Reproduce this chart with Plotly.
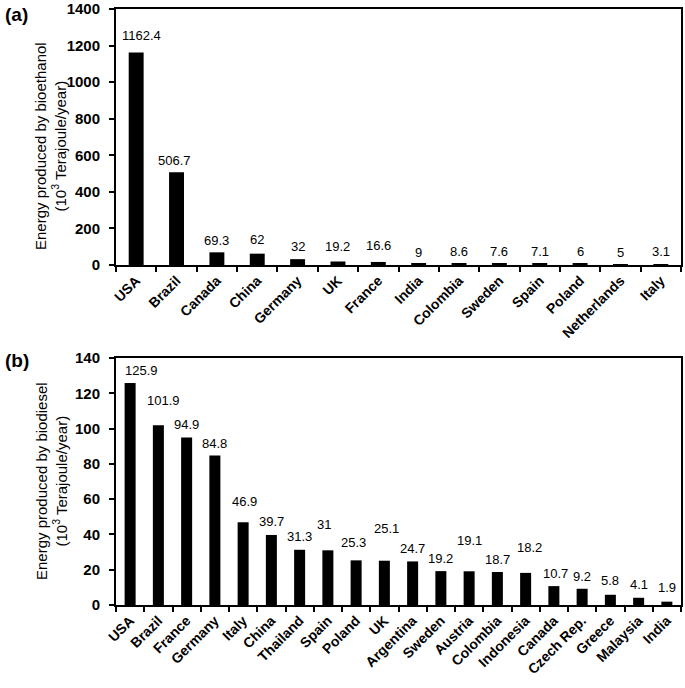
import plotly.graph_objects as go
from plotly.subplots import make_subplots

ethanol_countries = ["USA", "Brazil", "Canada", "China", "Germany", "UK", "France",
                     "India", "Colombia", "Sweden", "Spain", "Poland", "Netherlands", "Italy"]
ethanol_values = [1162.4, 506.7, 69.3, 62, 32, 19.2, 16.6, 9, 8.6, 7.6, 7.1, 6, 5, 3.1]
ethanol_labels = ["1162.4", "506.7", "69.3", "62", "32", "19.2", "16.6", "9", "8.6",
                  "7.6", "7.1", "6", "5", "3.1"]
ethanol_label_shift = [17, 12, 12, 14, 13, 15, 16, 11, 12, 12, 12, 12, 12, 13]
ethanol_label_xshift = [5, -2, 0, 0, 0, 0, 0, 0, 0, 0, 0, 0, 0, 0]

diesel_countries = ["USA", "Brazil", "France", "Germany", "Italy", "China", "Thailand",
                    "Spain", "Poland", "UK", "Argentina", "Sweden", "Austria", "Colombia",
                    "Indonesia", "Canada", "Czech Rep.", "Greece", "Malaysia", "India"]
diesel_values = [125.9, 101.9, 94.9, 84.8, 46.9, 39.7, 31.3, 31, 25.3, 25.1, 24.7, 19.2,
                 19.1, 18.7, 18.2, 10.7, 9.2, 5.8, 4.1, 1.9]
diesel_labels = ["125.9", "101.9", "94.9", "84.8", "46.9", "39.7", "31.3", "31", "25.3",
                 "25.1", "24.7", "19.2", "19.1", "18.7", "18.2", "10.7", "9.2", "5.8",
                 "4.1", "1.9"]
diesel_label_shift = [12, 25, 13, 12, 21, 13, 13, 26, 18, 32, 13, 13, 31, 13, 25, 13, 12,
                      14, 13, 14]
diesel_label_xshift = [11, 5, 0, 0, 1, 0, 0, -4, -3, 2, 0, 0, 0, 0, 4, 2, 0, 0, 0, 0]

W, H = 685, 688
FONT = "Liberation Sans, Arial"
fig = make_subplots(rows=2, cols=1)

fig.add_trace(go.Bar(x=ethanol_countries, y=ethanol_values, marker_color="black",
                     marker_line_width=0, width=0.37, showlegend=False), row=1, col=1)
fig.add_trace(go.Bar(x=diesel_countries, y=diesel_values, marker_color="black",
                     marker_line_width=0, width=0.39, showlegend=False), row=2, col=1)

for c, v, t, s, xs in zip(ethanol_countries, ethanol_values, ethanol_labels,
                          ethanol_label_shift, ethanol_label_xshift):
    fig.add_annotation(x=c, y=v, text=t, showarrow=False, xref="x", yref="y",
                       yanchor="middle", yshift=s, xshift=xs,
                       font=dict(family=FONT, size=13, color="black"))
for c, v, t, s, xs in zip(diesel_countries, diesel_values, diesel_labels,
                          diesel_label_shift, diesel_label_xshift):
    fig.add_annotation(x=c, y=v, text=t, showarrow=False, xref="x2", yref="y2",
                       yanchor="middle", yshift=s, xshift=xs,
                       font=dict(family=FONT, size=13, color="black"))

xdom = [116 / W, 681 / W]
fig.update_layout(
    width=W, height=H,
    margin=dict(l=0, r=0, t=0, b=0),
    plot_bgcolor="white", paper_bgcolor="white",
    font=dict(family=FONT, color="black"),
    xaxis=dict(domain=xdom, anchor="y"),
    xaxis2=dict(domain=xdom, anchor="y2"),
    yaxis=dict(domain=[1 - 265 / H, 1 - 9 / H], anchor="x", range=[0, 1400], dtick=200),
    yaxis2=dict(domain=[1 - 605 / H, 1 - 358 / H], anchor="x2", range=[0, 140], dtick=20),
)

for ax in ["xaxis", "xaxis2"]:
    fig.layout[ax].update(showline=True, mirror=True, linecolor="black", linewidth=2,
                          ticks="outside", ticklen=5, tickwidth=2, tickcolor="black",
                          tickson="boundaries", tickangle=-45, showgrid=False,
                          automargin=False, ticklabeloverflow="allow",
                          tickfont=dict(family=FONT, size=14, color="black", weight="bold"))
for ax in ["yaxis", "yaxis2"]:
    fig.layout[ax].update(showline=True, mirror=True, linecolor="black", linewidth=2,
                          ticks="outside", ticklen=5, tickwidth=2, tickcolor="black",
                          showgrid=False, zeroline=False, automargin=False,
                          ticklabeloverflow="allow", ticklabelstandoff=6,
                          tickfont=dict(family=FONT, size=15, color="black", weight="bold"))

# y-axis titles
fig.add_annotation(x=51 / W, y=1 - 146 / H, xref="paper", yref="paper",
                   text="Energy produced by bioethanol<br>(10<sup>3</sup> Terajoule/year)",
                   textangle=-90, showarrow=False, xanchor="center", yanchor="middle",
                   font=dict(family=FONT, size=15, color="black"))
fig.add_annotation(x=51 / W, y=1 - 481 / H, xref="paper", yref="paper",
                   text="Energy produced by biodiesel<br>(10<sup>3</sup> Terajoule/year)",
                   textangle=-90, showarrow=False, xanchor="center", yanchor="middle",
                   font=dict(family=FONT, size=15, color="black"))

fig.add_annotation(x=3 / W, y=1 - 14 / H, xref="paper", yref="paper", text="<b>(a)</b>",
                   showarrow=False, xanchor="left", yanchor="middle",
                   font=dict(family=FONT, size=19, color="black"))
fig.add_annotation(x=3 / W, y=1 - 360 / H, xref="paper", yref="paper", text="<b>(b)</b>",
                   showarrow=False, xanchor="left", yanchor="middle",
                   font=dict(family=FONT, size=19, color="black"))

fig.write_html("out.html", config={"displayModeBar": False},
               post_script="document.body.style.margin='0';document.body.style.overflow='hidden';")
